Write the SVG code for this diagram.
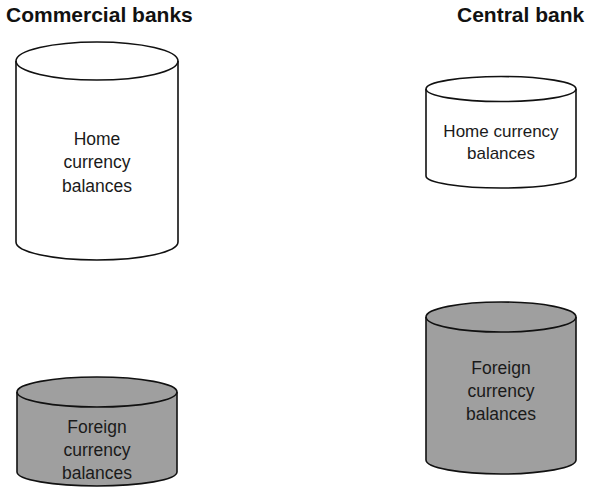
<svg xmlns="http://www.w3.org/2000/svg" width="590" height="493" viewBox="0 0 590 493">
<style>
.title{font-family:"Liberation Sans",Arial,sans-serif;font-weight:bold;font-size:21px;fill:#111}
.lbl{font-family:"Liberation Sans",Arial,sans-serif;font-size:17.5px;fill:#1a1a1a;text-anchor:middle}
.cyl{stroke:#111;stroke-width:1.6}
.white{fill:#fff}
.gray{fill:#9f9f9f}
</style>
<rect width="590" height="493" fill="#fff"/>
<text class="title" x="6" y="22">Commercial banks</text>
<text class="title" x="457" y="22">Central bank</text>

<g id="cb-home">
<path class="cyl white" d="M16,61 L16,242 A81,18 0 0 0 178,242 L178,61 A81,19 0 0 0 16,61 Z"/>
<path class="cyl" fill="none" d="M16,61 A81,19 0 0 0 178,61"/>
<text class="lbl" x="97" y="145">Home</text>
<text class="lbl" x="97" y="168">currency</text>
<text class="lbl" x="97" y="192">balances</text>
</g>

<g id="cb-foreign">
<path class="cyl gray" d="M17,392 L17,472 A80,14 0 0 0 177,472 L177,392 A80,15 0 0 0 17,392 Z"/>
<path class="cyl" fill="none" d="M17,392 A80,15 0 0 0 177,392"/>
<text class="lbl" x="97" y="433">Foreign</text>
<text class="lbl" x="97" y="456">currency</text>
<text class="lbl" x="97" y="479">balances</text>
</g>

<g id="central-home">
<path class="cyl white" d="M426,89 L426,176 A75,12 0 0 0 576,176 L576,89 A75,12.5 0 0 0 426,89 Z"/>
<path class="cyl" fill="none" d="M426,89 A75,12.5 0 0 0 576,89"/>
<text class="lbl" x="501" y="137" style="font-size:17px">Home currency</text>
<text class="lbl" x="501" y="159" style="font-size:17px">balances</text>
</g>

<g id="central-foreign">
<path class="cyl gray" d="M426,317 L426,460 A75,14 0 0 0 576,460 L576,317 A75,15 0 0 0 426,317 Z"/>
<path class="cyl" fill="none" d="M426,317 A75,15 0 0 0 576,317"/>
<text class="lbl" x="501" y="374">Foreign</text>
<text class="lbl" x="501" y="397">currency</text>
<text class="lbl" x="501" y="420">balances</text>
</g>

<g id="connectors"></g>
</svg>
